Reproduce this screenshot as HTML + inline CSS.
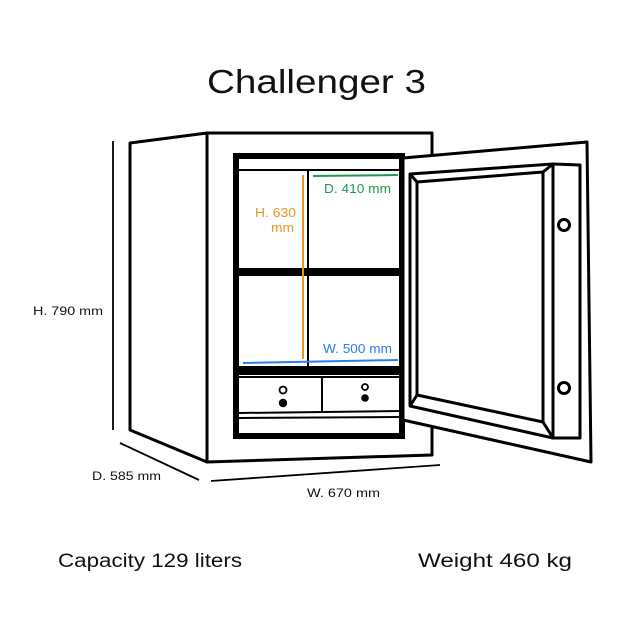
<!DOCTYPE html>
<html><head><style>
html,body{margin:0;padding:0;background:#fff;}
svg{display:block;}
text{font-family:"Liberation Sans",sans-serif;}
</style></head><body>
<svg width="625" height="625" viewBox="0 0 625 625" xmlns="http://www.w3.org/2000/svg">
<rect width="625" height="625" fill="#fff"/>
<text x="207" y="93" font-size="33" fill="#111" textLength="219" lengthAdjust="spacingAndGlyphs">Challenger 3</text>

<g fill="none" stroke="#000" stroke-width="3" stroke-linejoin="round">
  <polygon points="130,143 207,133 207,462 130,430" fill="#fff"/>
  <polygon points="207,133 432,133 432,455 207,462" fill="#fff"/>
</g>
<rect x="236" y="156" width="166" height="280" fill="none" stroke="#000" stroke-width="6"/>
<line x1="239" y1="170" x2="401" y2="170" stroke="#000" stroke-width="2"/>
<rect x="239" y="268" width="163" height="8" fill="#000"/>
<rect x="239" y="366" width="163" height="9" fill="#000"/>
<line x1="308" y1="170" x2="308" y2="366" stroke="#000" stroke-width="2"/>
<line x1="239" y1="377" x2="401" y2="377" stroke="#000" stroke-width="2"/>
<line x1="239" y1="413" x2="401" y2="411" stroke="#000" stroke-width="2"/>
<line x1="239" y1="418" x2="401" y2="417" stroke="#000" stroke-width="2"/>
<line x1="322" y1="377" x2="322" y2="412" stroke="#000" stroke-width="2"/>
<circle cx="283" cy="390" r="3.5" fill="none" stroke="#000" stroke-width="1.8"/>
<circle cx="283" cy="403" r="4.2" fill="#000"/>
<circle cx="365" cy="387" r="3" fill="none" stroke="#000" stroke-width="1.8"/>
<circle cx="365" cy="398" r="3.8" fill="#000"/>

<line x1="303" y1="175" x2="303" y2="359" stroke="#f0922a" stroke-width="2"/>
<text x="255" y="217" font-size="12.5" fill="#f0922a" textLength="41" lengthAdjust="spacingAndGlyphs">H. 630</text>
<text x="271" y="232" font-size="12.5" fill="#f0922a" textLength="23" lengthAdjust="spacingAndGlyphs">mm</text>
<line x1="313" y1="176" x2="398" y2="175" stroke="#1e9a4a" stroke-width="2"/>
<text x="324" y="193" font-size="12.5" fill="#1e9a4a" textLength="67" lengthAdjust="spacingAndGlyphs">D. 410 mm</text>
<line x1="243" y1="363" x2="398" y2="360" stroke="#2a7fe8" stroke-width="2"/>
<text x="323" y="353" font-size="12.5" fill="#2a7fe8" textLength="69" lengthAdjust="spacingAndGlyphs">W. 500 mm</text>

<g fill="none" stroke="#000" stroke-width="3" stroke-linejoin="round">
  <polygon points="403,158 587,142 591,462 403,420" fill="#fff"/>
  <polygon points="410,174 553,164 553,438 410,406"/>
  <polygon points="417,182 543,172 543,422 417,395"/>
  <line x1="410" y1="174" x2="417" y2="182"/>
  <line x1="553" y1="164" x2="543" y2="172"/>
  <line x1="553" y1="438" x2="543" y2="422"/>
  <line x1="410" y1="406" x2="417" y2="395"/>
  <polygon points="553,164 580,165 580,438 553,438"/>
  <circle cx="564" cy="225" r="5.5"/>
  <circle cx="564" cy="388" r="5.5"/>
</g>

<g stroke="#000" stroke-width="1.8">
  <line x1="113" y1="141" x2="113" y2="430"/>
  <line x1="120" y1="443" x2="199" y2="480"/>
  <line x1="211" y1="481" x2="440" y2="465"/>
</g>
<text x="33" y="315" font-size="12" fill="#111" textLength="70" lengthAdjust="spacingAndGlyphs">H. 790 mm</text>
<text x="92" y="480" font-size="12" fill="#111" textLength="69" lengthAdjust="spacingAndGlyphs">D. 585 mm</text>
<text x="307" y="497" font-size="12" fill="#111" textLength="73" lengthAdjust="spacingAndGlyphs">W. 670 mm</text>

<text x="58" y="567" font-size="19" fill="#111" textLength="184" lengthAdjust="spacingAndGlyphs">Capacity 129 liters</text>
<text x="418" y="567" font-size="19" fill="#111" textLength="154" lengthAdjust="spacingAndGlyphs">Weight 460 kg</text>
</svg>
</body></html>
